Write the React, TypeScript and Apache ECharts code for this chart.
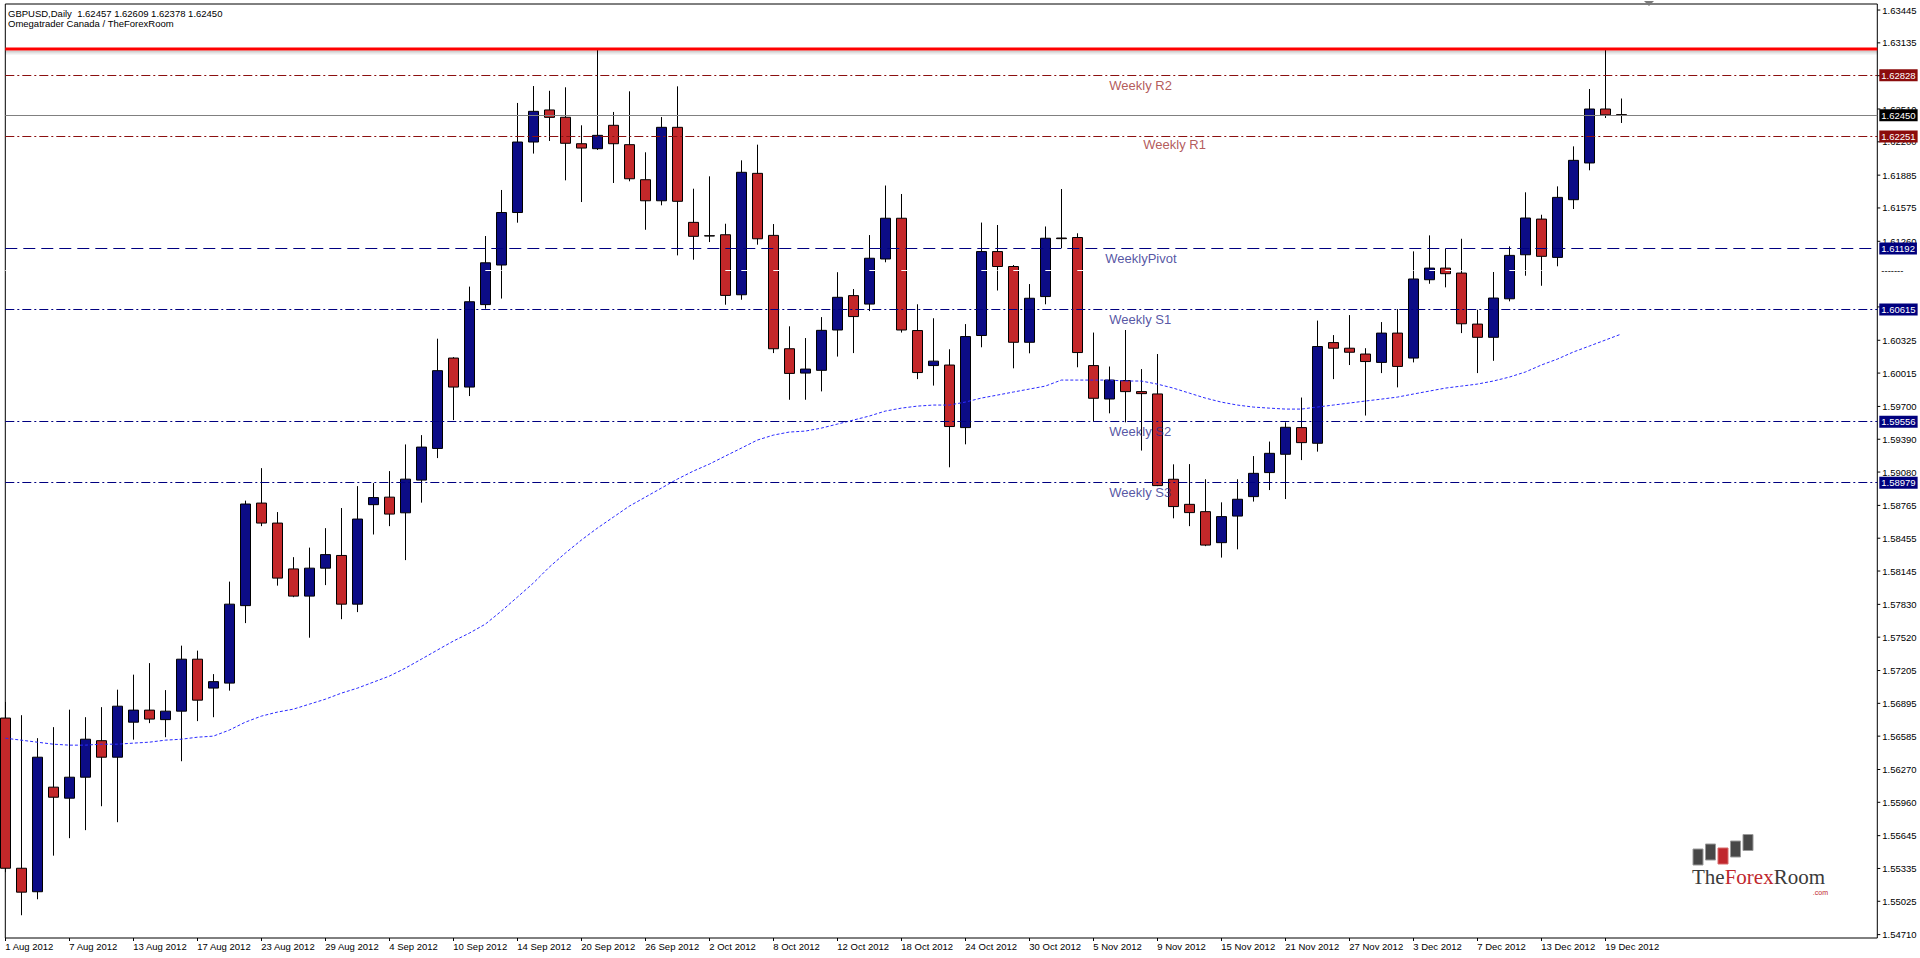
import React, { useEffect, useRef } from 'react';
import * as echarts from 'echarts';

const FONT = '"Liberation Sans", Arial, sans-serif';

const dates = [
  '1 Aug 2012','2 Aug 2012','3 Aug 2012','6 Aug 2012','7 Aug 2012','8 Aug 2012','9 Aug 2012','10 Aug 2012','13 Aug 2012','14 Aug 2012',
  '15 Aug 2012','16 Aug 2012','17 Aug 2012','20 Aug 2012','21 Aug 2012','22 Aug 2012','23 Aug 2012','24 Aug 2012','27 Aug 2012','28 Aug 2012',
  '29 Aug 2012','30 Aug 2012','31 Aug 2012','3 Sep 2012','4 Sep 2012','5 Sep 2012','6 Sep 2012','7 Sep 2012','10 Sep 2012','11 Sep 2012',
  '12 Sep 2012','13 Sep 2012','14 Sep 2012','17 Sep 2012','18 Sep 2012','19 Sep 2012','20 Sep 2012','21 Sep 2012','24 Sep 2012','25 Sep 2012',
  '26 Sep 2012','27 Sep 2012','28 Sep 2012','1 Oct 2012','2 Oct 2012','3 Oct 2012','4 Oct 2012','5 Oct 2012','8 Oct 2012','9 Oct 2012',
  '10 Oct 2012','11 Oct 2012','12 Oct 2012','15 Oct 2012','16 Oct 2012','17 Oct 2012','18 Oct 2012','19 Oct 2012','22 Oct 2012','23 Oct 2012',
  '24 Oct 2012','25 Oct 2012','26 Oct 2012','29 Oct 2012','30 Oct 2012','31 Oct 2012','1 Nov 2012','2 Nov 2012','5 Nov 2012','6 Nov 2012',
  '7 Nov 2012','8 Nov 2012','9 Nov 2012','12 Nov 2012','13 Nov 2012','14 Nov 2012','15 Nov 2012','16 Nov 2012','19 Nov 2012','20 Nov 2012',
  '21 Nov 2012','22 Nov 2012','23 Nov 2012','26 Nov 2012','27 Nov 2012','28 Nov 2012','29 Nov 2012','30 Nov 2012','3 Dec 2012','4 Dec 2012',
  '5 Dec 2012','6 Dec 2012','7 Dec 2012','10 Dec 2012','11 Dec 2012','12 Dec 2012','13 Dec 2012','14 Dec 2012','17 Dec 2012','18 Dec 2012',
  '19 Dec 2012','20 Dec 2012',
];

const opens = [
  1.56756,1.55337,1.55115,1.56103,1.55999,1.56197,1.56542,1.56386,1.56717,1.56831,
  1.56741,1.56821,1.57312,1.57039,1.57086,1.57818,1.58787,1.58598,1.58165,1.57908,
  1.58172,1.58292,1.57832,1.58772,1.58843,1.58695,1.59004,1.59303,1.60157,1.59883,
  1.60662,1.61036,1.61532,1.62198,1.62501,1.62432,1.62182,1.62135,1.62356,1.62173,
  1.61842,1.61643,1.62337,1.61439,1.61313,1.61322,1.60755,1.61902,1.61316,1.60245,
  1.60015,1.60041,1.60422,1.60747,1.60667,1.61093,1.61478,1.60417,1.60086,1.60091,
  1.59500,1.60370,1.61163,1.61022,1.60306,1.60738,1.61291,1.61296,1.60086,1.59770,
  1.59944,1.59840,1.59818,1.59012,1.58775,1.58706,1.58413,1.58664,1.58848,1.59075,
  1.59248,1.59500,1.59352,1.60303,1.60250,1.60195,1.60116,1.60393,1.60157,1.60897,
  1.61007,1.60960,1.60478,1.60353,1.60717,1.61133,1.61470,1.61108,1.61653,1.62000,
  1.62510,1.62457,
];

const closes = [
  1.55337,1.55111,1.56386,1.56008,1.56197,1.56556,1.56386,1.56868,1.56831,1.56746,
  1.56821,1.57312,1.56925,1.57100,1.57832,1.58778,1.58598,1.58078,1.57908,1.58172,
  1.58300,1.57832,1.58636,1.58839,1.58683,1.59013,1.59316,1.60038,1.59883,1.60689,
  1.61057,1.61532,1.62198,1.62488,1.62431,1.62186,1.62141,1.62261,1.62182,1.61851,
  1.61643,1.62337,1.61638,1.61307,1.61310,1.60749,1.61912,1.61284,1.60245,1.60012,
  1.60053,1.60419,1.60731,1.60549,1.61100,1.61478,1.60422,1.60020,1.60128,1.59510,
  1.60360,1.61163,1.61022,1.60306,1.60722,1.61289,1.61285,1.60209,1.59777,1.59949,
  1.59840,1.59821,1.58952,1.58754,1.58697,1.58390,1.58659,1.58823,1.59068,1.59257,
  1.59503,1.59358,1.60266,1.60250,1.60212,1.60124,1.60393,1.60078,1.60904,1.61007,
  1.60954,1.60481,1.60353,1.60724,1.61127,1.61480,1.61118,1.61675,1.62025,1.62510,
  1.62455,1.62450,
];

const lows = [
  1.55300,1.54893,1.55044,1.55456,1.55621,1.55697,1.55923,1.55772,1.56552,1.56708,
  1.56575,1.56348,1.56727,1.56764,1.57015,1.57653,1.58569,1.58007,1.57898,1.57515,
  1.58012,1.57690,1.57757,1.58490,1.58569,1.58248,1.58791,1.59212,1.59571,1.59798,
  1.60623,1.60719,1.61436,1.62089,1.62208,1.61836,1.61631,1.62123,1.61811,1.61827,
  1.61369,1.61600,1.61127,1.61086,1.61253,1.60661,1.60708,1.61228,1.60204,1.59763,
  1.59763,1.59842,1.60171,1.60204,1.60601,1.61062,1.60398,1.59958,1.59897,1.59125,
  1.59342,1.60259,1.60795,1.60060,1.60202,1.60665,1.61195,1.60070,1.59557,1.59635,
  1.59550,1.59283,1.58947,1.58643,1.58569,1.58380,1.58272,1.58350,1.58801,1.58910,
  1.58825,1.59193,1.59273,1.59958,1.60091,1.59614,1.60015,1.59880,1.60116,1.60859,
  1.60825,1.60393,1.60015,1.60131,1.60693,1.60935,1.60840,1.61024,1.61565,1.61931,
  1.62425,1.62378,
];

const highs = [
  1.56908,1.56783,1.56566,1.56670,1.56835,1.56764,1.56859,1.57024,1.57166,1.57275,
  1.57020,1.57440,1.57393,1.57171,1.58045,1.58810,1.59117,1.58702,1.58276,1.58366,
  1.58550,1.58740,1.58947,1.58976,1.59089,1.59341,1.59429,1.60340,1.60166,1.60832,
  1.61310,1.61745,1.62567,1.62727,1.62682,1.62715,1.62356,1.63077,1.62482,1.62677,
  1.62101,1.62434,1.62724,1.61757,1.61874,1.61426,1.62025,1.62173,1.61423,1.60457,
  1.60346,1.60544,1.60968,1.60809,1.61319,1.61787,1.61707,1.60665,1.60533,1.60240,
  1.60478,1.61437,1.61414,1.61036,1.60856,1.61400,1.61754,1.61336,1.60398,1.60077,
  1.60422,1.60053,1.60195,1.59153,1.59155,1.59012,1.58794,1.59012,1.59231,1.59368,
  1.59550,1.59784,1.60511,1.60374,1.60563,1.60250,1.60497,1.60620,1.61165,1.61316,
  1.61190,1.61284,1.60613,1.60970,1.61212,1.61723,1.61511,1.61779,1.62157,1.62699,
  1.63077,1.62609,
];

const movingAverage = [
  1.56566,1.56547,1.56528,1.56509,1.56500,1.56500,1.56509,1.56509,1.56519,1.56528,
  1.56547,1.56556,1.56575,1.56585,1.56642,1.56717,1.56774,1.56812,1.56840,1.56887,
  1.56934,1.56991,1.57038,1.57095,1.57152,1.57227,1.57312,1.57398,1.57483,1.57558,
  1.57643,1.57766,1.57898,1.58031,1.58182,1.58314,1.58437,1.58550,1.58654,1.58758,
  1.58843,1.58928,1.59013,1.59089,1.59155,1.59231,1.59306,1.59382,1.59429,1.59458,
  1.59467,1.59495,1.59533,1.59571,1.59609,1.59656,1.59684,1.59703,1.59713,1.59713,
  1.59741,1.59779,1.59807,1.59836,1.59864,1.59892,1.59949,1.59949,1.59949,1.59949,
  1.59940,1.59940,1.59911,1.59873,1.59826,1.59779,1.59741,1.59713,1.59694,1.59684,
  1.59675,1.59675,1.59694,1.59713,1.59732,1.59751,1.59769,1.59788,1.59817,1.59845,
  1.59873,1.59892,1.59911,1.59940,1.59977,1.60025,1.60091,1.60147,1.60214,1.60270,
  1.60327,1.60384,
];

const priceTicks = [
  1.63445,1.63135,1.62825,1.62510,1.62200,1.61885,1.61575,1.61260,1.60640,1.60325,
  1.60015,1.59700,1.59390,1.59080,1.58765,1.58455,1.58145,1.57830,1.57520,1.57205,
  1.56895,1.56585,1.56270,1.55960,1.55645,1.55335,1.55025,1.54710,
];

const levelNames = ['Weekly R2', 'Weekly R1', 'WeeklyPivot', 'Weekly S1', 'Weekly S2', 'Weekly S3'];
const levelValues = [1.62828, 1.62251, 1.61192, 1.60615, 1.59556, 1.58979];
const resistanceValue = 1.63077;
const bidValue = 1.6245;
const hiddenValue = 1.60986;
const titleLine1 = 'GBPUSD,Daily  1.62457 1.62609 1.62378 1.62450';
const titleLine2 = 'Omegatrader Canada / TheForexRoom';

const PAD_SLOTS = 16;
const categories = dates.concat(Array.from({ length: PAD_SLOTS }, (_, i) => 'pad' + i));

const RED_LVL = '#8b1010';
const BLUE_LVL = '#000080';
const levelLineColor = [RED_LVL, RED_LVL, BLUE_LVL, BLUE_LVL, BLUE_LVL, BLUE_LVL];
const levelTextColor = ['#a03030', '#a03030', '#2a2a8c', '#2a2a8c', '#2a2a8c', '#2a2a8c'];
const levelDash: any[] = [[9, 3, 2, 3], [9, 3, 2, 3], [12, 6], [9, 3, 2, 3], [9, 3, 2, 3], [9, 3, 2, 3]];
const levelAnchor = [69, 71, 69, 69, 69, 69];
const levelDx = [0, 2, -4, 0, 0, 0];
const levelDy = [10, 8, 10, 10, 10, 10];

const boxLabel = (v: number, bg: string, fg = '#fff') => ({
  show: true,
  position: 'end',
  distance: 2,
  formatter: v.toFixed(5),
  color: fg,
  backgroundColor: bg,
  padding: [1, 2, 0, 2],
  lineHeight: 11,
  fontSize: 9.5,
  fontFamily: FONT,
});

function buildOption(): any {
  const candleData = opens.map((o, i) => [o, closes[i], lows[i], highs[i]]);
  const showIdx = (i: number) => i % 4 === 0 && i < dates.length - 1;

  const markLines: any[] = [
    {
      yAxis: bidValue,
      lineStyle: { color: '#808080', width: 1, type: 'solid' },
      label: boxLabel(bidValue, '#000000'),
    },
    {
      yAxis: hiddenValue,
      lineStyle: { color: '#ffffff', width: 1, type: [7, 9] },
      label: { show: true, position: 'end', distance: 2, formatter: '-------', color: '#000', backgroundColor: '#fff', fontSize: 9.5, fontFamily: FONT, padding: [0, 2, 0, 2], lineHeight: 11 },
    },
  ];
  levelValues.forEach((v, i) => {
    markLines.push({
      yAxis: v,
      lineStyle: { color: levelLineColor[i], width: 1, type: levelDash[i] },
      label: boxLabel(v, levelLineColor[i] === RED_LVL ? '#8b0c0c' : '#00007e'),
    });
  });

  return {
    animation: false,
    backgroundColor: '#ffffff',
    textStyle: { fontFamily: FONT },
    grid: {
      left: 5.3,
      top: 4,
      right: 42.7,
      bottom: 20,
      show: true,
      borderColor: '#000000',
      borderWidth: 1,
      backgroundColor: '#ffffff',
      containLabel: false,
      outerBoundsMode: 'none',
    },
    xAxis: {
      type: 'category',
      data: categories,
      boundaryGap: false,
      axisLine: { show: false },
      axisTick: { show: true, interval: (i: number) => showIdx(i), length: 3, lineStyle: { color: '#000' } },
      axisLabel: {
        interval: (i: number) => showIdx(i),
        align: 'left',
        margin: 3,
        color: '#000',
        fontSize: 9.5,
        fontFamily: FONT,
      },
      splitLine: { show: false },
    },
    yAxis: {
      type: 'value',
      position: 'right',
      min: 1.54678,
      max: 1.63502,
      axisLine: { show: false },
      axisTick: { show: false },
      axisLabel: { show: false },
      splitLine: { show: false },
    },
    graphic: [
      { type: 'text', x: 8, y: 13, style: { text: titleLine1, fill: '#000', font: '9.5px ' + FONT, verticalAlign: 'middle' } },
      { type: 'text', x: 8, y: 23.5, style: { text: titleLine2, fill: '#000', font: '9.5px ' + FONT, verticalAlign: 'middle' } },
      { type: 'polygon', shape: { points: [[1644, 1], [1654, 1], [1649, 6]] }, style: { fill: '#7a7a7a' } },
      { type: 'rect', shape: { x: 1693, y: 849, width: 10, height: 16 }, style: { fill: '#474747', stroke: '#9a9a9a', lineWidth: 1 } },
      { type: 'rect', shape: { x: 1705.5, y: 844, width: 10, height: 16 }, style: { fill: '#474747', stroke: '#9a9a9a', lineWidth: 1 } },
      { type: 'rect', shape: { x: 1718, y: 848, width: 10, height: 16 }, style: { fill: '#c0272d', stroke: '#d66a6a', lineWidth: 1 } },
      { type: 'rect', shape: { x: 1730.5, y: 841, width: 10, height: 16 }, style: { fill: '#474747', stroke: '#9a9a9a', lineWidth: 1 } },
      { type: 'rect', shape: { x: 1743, y: 834.5, width: 10, height: 16 }, style: { fill: '#474747', stroke: '#9a9a9a', lineWidth: 1 } },
      {
        type: 'text',
        x: 1692,
        y: 866,
        style: {
          text: '{a|The}{b|Forex}{a|Room}',
          verticalAlign: 'top',
          rich: {
            a: { fill: '#3a3a3a', fontSize: 21, fontFamily: '"Liberation Serif", "Times New Roman", serif' },
            b: { fill: '#c0272d', fontSize: 21, fontFamily: '"Liberation Serif", "Times New Roman", serif' },
          },
        },
      },
      { type: 'text', x: 1828, y: 892, style: { text: '.com', fill: '#c0272d', font: '7px ' + FONT, align: 'right', verticalAlign: 'middle' } },
    ],
    series: [
      {
        type: 'custom',
        name: 'priceScale',
        coordinateSystem: 'cartesian2d',
        clip: false,
        silent: true,
        z: 1,
        data: priceTicks.map((v) => [0, v]),
        encode: { x: 0, y: 1 },
        renderItem: (params: any, api: any) => {
          const v = api.value(1);
          const pt = api.coord([0, v]);
          const cs = params.coordSys;
          const xr = cs.x + cs.width;
          return {
            type: 'group',
            children: [
              { type: 'line', shape: { x1: xr, y1: pt[1], x2: xr + 3, y2: pt[1] }, style: { stroke: '#000', lineWidth: 1 } },
              {
                type: 'text',
                x: xr + 5,
                y: pt[1],
                style: { text: Number(v).toFixed(5), fill: '#000', font: '9.5px ' + FONT, verticalAlign: 'middle', align: 'left' },
              },
            ],
          };
        },
      },
      {
        type: 'custom',
        name: 'resistance',
        coordinateSystem: 'cartesian2d',
        clip: false,
        silent: true,
        z: 5,
        data: [[0, resistanceValue]],
        encode: { x: 0, y: 1 },
        renderItem: (params: any, api: any) => {
          const pt = api.coord([0, api.value(1)]);
          const cs = params.coordSys;
          const y = pt[1];
          return {
            type: 'group',
            children: [
              { type: 'rect', shape: { x: cs.x, y: y + 1.5, width: cs.width, height: 2 }, style: { fill: 'rgba(0,0,0,0.18)' } },
              { type: 'rect', shape: { x: cs.x, y: y + 3.5, width: cs.width, height: 2 }, style: { fill: 'rgba(0,0,0,0.08)' } },
              { type: 'rect', shape: { x: cs.x, y: y - 1.5, width: cs.width, height: 3 }, style: { fill: '#ff0000' } },
            ],
          };
        },
      },
      {
        type: 'candlestick',
        name: 'GBPUSD',
        data: candleData,
        barWidth: 10,
        clip: true,
        silent: true,
        z: 2,
        itemStyle: {
          color: '#0c0c86',
          color0: '#c4282a',
          borderColor: '#000000',
          borderColor0: '#000000',
          borderColorDoji: '#000000',
          borderWidth: 1,
        },
      },
      {
        type: 'line',
        name: 'MA',
        data: movingAverage,
        symbol: 'none',
        silent: true,
        z: 3,
        lineStyle: { color: '#2a2aff', width: 1, type: [3, 2] },
        markLine: {
          silent: true,
          symbol: ['none', 'none'],
          precision: 5,
          animation: false,
          data: markLines,
        },
      },
      {
        type: 'scatter',
        name: 'levels',
        symbolSize: 0,
        silent: true,
        z: 4,
        data: levelValues.map((v, i) => ({
          value: [levelAnchor[i], v],
          label: {
            show: true,
            position: 'right',
            distance: 0,
            offset: [levelDx[i], levelDy[i]],
            formatter: levelNames[i],
            color: levelTextColor[i],
            fontSize: 13,
            fontFamily: FONT,
          },
        })),
      },
    ],
  };
}

export default function App() {
  const ref = useRef<HTMLDivElement>(null);
  useEffect(() => {
    const chart = echarts.init(ref.current as HTMLDivElement, null, { renderer: 'svg' });
    chart.setOption(buildOption());
    return () => chart.dispose();
  }, []);
  return (
    <div
      ref={ref}
      style={{ position: 'absolute', left: 0, top: 0, width: 1920, height: 958, background: '#ffffff' }}
    />
  );
}
